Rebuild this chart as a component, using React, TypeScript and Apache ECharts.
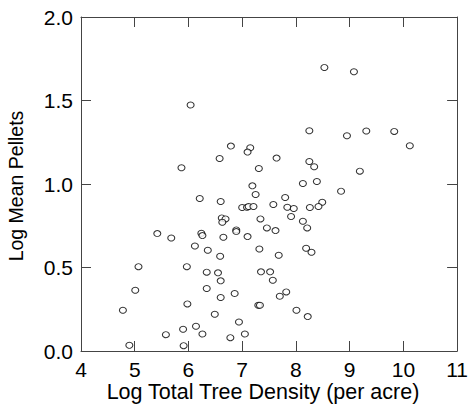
import React, { useEffect, useRef } from "react";
import * as echarts from "echarts";

const xValues: number[] = [
  8.53, 9.08, 6.04, 8.25, 8.95, 9.31, 9.83, 10.12, 6.79, 7.15,
  7.10, 6.58, 7.64, 5.87, 7.31, 8.25, 8.34, 9.19, 8.39, 8.13,
  7.19, 7.25, 8.84, 6.21, 6.60, 7.80, 7.58, 8.49, 7.00, 7.09,
  7.12, 7.21, 7.84, 7.96, 8.26, 8.42, 7.91, 6.62, 6.69, 6.63,
  7.34, 8.13, 8.21, 7.46, 7.62, 6.89, 6.89, 5.42, 5.68, 6.24,
  6.26, 6.65, 7.10, 6.12, 6.36, 7.32, 8.19, 8.29, 7.68, 6.59,
  5.07, 5.97, 6.34, 6.55, 7.35, 7.52, 6.60, 7.57, 5.01, 6.34,
  6.86, 6.60, 7.82, 7.70, 5.98, 7.30, 7.33, 4.78, 8.01, 6.49,
  8.22, 6.94, 6.14, 5.90, 5.58, 6.26, 7.05, 6.78, 4.90, 5.91,
];

const yValues: number[] = [
  1.698, 1.672, 1.473, 1.319, 1.289, 1.317, 1.315, 1.229, 1.227, 1.217,
  1.191, 1.153, 1.155, 1.097, 1.093, 1.135, 1.103, 1.077, 1.015, 1.003,
  0.989, 0.937, 0.957, 0.913, 0.895, 0.919, 0.877, 0.891, 0.859, 0.861,
  0.865, 0.865, 0.861, 0.853, 0.859, 0.865, 0.805, 0.797, 0.791, 0.771,
  0.791, 0.777, 0.737, 0.737, 0.721, 0.725, 0.715, 0.703, 0.677, 0.705,
  0.691, 0.681, 0.685, 0.629, 0.603, 0.611, 0.615, 0.591, 0.573, 0.567,
  0.505, 0.505, 0.472, 0.468, 0.474, 0.474, 0.420, 0.424, 0.364, 0.374,
  0.344, 0.320, 0.354, 0.328, 0.282, 0.274, 0.274, 0.244, 0.244, 0.220,
  0.206, 0.174, 0.148, 0.130, 0.098, 0.102, 0.102, 0.080, 0.034, 0.032,
];

const xTitle = "Log Total Tree Density (per acre)";
const yTitle = "Log Mean Pellets";

const FONT = "'Liberation Sans', Arial, sans-serif";
const LINE = "#444";

export default function App() {
  const ref = useRef<HTMLDivElement>(null);

  useEffect(() => {
    if (!ref.current) return;
    const chart = echarts.init(ref.current, null, { renderer: "svg" });
    const points = xValues.map((x, i) => [x, yValues[i]]);

    const tickInside = { show: true, inside: true, length: 10, lineStyle: { color: LINE, width: 1 } };
    const axisLine = { show: true, onZero: false, lineStyle: { color: LINE, width: 1 } };

    chart.setOption({
      animation: false,
      backgroundColor: "#ffffff",
      grid: { left: 81, top: 17, right: 13, bottom: 55, containLabel: false },
      xAxis: [
        {
          type: "value",
          position: "bottom",
          min: 4,
          max: 11,
          interval: 1,
          axisLine,
          axisTick: tickInside,
          splitLine: { show: false },
          axisLabel: { color: "#000", fontSize: 21, fontFamily: FONT, margin: 8 },
        },
        {
          type: "value",
          position: "top",
          min: 4,
          max: 11,
          interval: 1,
          axisLine,
          axisTick: tickInside,
          splitLine: { show: false },
          axisLabel: { show: false },
        },
      ],
      yAxis: [
        {
          type: "value",
          position: "left",
          min: 0,
          max: 2,
          interval: 0.5,
          axisLine,
          axisTick: tickInside,
          splitLine: { show: false },
          axisLabel: {
            color: "#000",
            fontSize: 21,
            fontFamily: FONT,
            margin: 8,
            formatter: (v: number) => v.toFixed(1),
          },
        },
        {
          type: "value",
          position: "right",
          min: 0,
          max: 2,
          interval: 0.5,
          axisLine,
          axisTick: tickInside,
          splitLine: { show: false },
          axisLabel: { show: false },
        },
      ],
      series: [
        {
          type: "scatter",
          xAxisIndex: 0,
          yAxisIndex: 0,
          data: points,
          symbol: "circle",
          symbolSize: [7, 6],
          itemStyle: { color: "#ffffff", borderColor: "#000", borderWidth: 1 },
          emphasis: { disabled: true },
        },
      ],
      graphic: [
        {
          type: "text",
          x: 263,
          y: 392,
          style: {
            text: xTitle,
            fontSize: 21.5,
            fontFamily: FONT,
            fill: "#000",
            align: "center",
            verticalAlign: "middle",
          },
        },
        {
          type: "text",
          x: 16,
          y: 186,
          rotation: Math.PI / 2,
          style: {
            text: yTitle,
            fontSize: 19.5,
            fontFamily: FONT,
            fill: "#000",
            align: "center",
            verticalAlign: "middle",
          },
        },
      ],
    });

    return () => chart.dispose();
  }, []);

  return (
    <div
      ref={ref}
      style={{ position: "fixed", left: 0, top: 0, width: 471, height: 406 }}
    />
  );
}
